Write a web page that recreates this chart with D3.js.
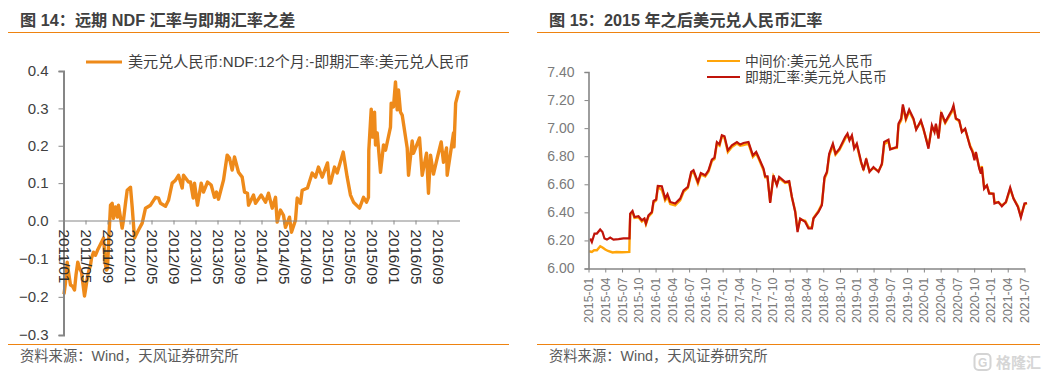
<!DOCTYPE html>
<html><head><meta charset="utf-8">
<script src="https://cdn.jsdelivr.net/npm/d3@7"></script>
<style>html,body{margin:0;padding:0;background:#fff}svg{display:block}text{font-family:"Liberation Sans","Noto Sans CJK SC",sans-serif}</style>
</head><body><svg id="c" width="1050" height="379"></svg>
<script>
// Left chart: months since 2011/01 and NDF spread
const ndfMonths=[0.09,0.36,0.67,0.91,1.27,1.64,2,2.27,2.6,2.91,3.27,3.45,3.82,4,4.27,4.55,4.91,5.09,5.45,5.82,6.18,6.73,7.09,7.27,7.45,7.64,7.82,8,8.27,8.55,8.85,9.09,9.45,9.82,10,10.67,10.91,11.27,11.58,12.18,12.49,12.91,13.64,14.31,14.91,15.82,16.73,17.27,17.64,18.55,19.09,19.76,20.36,20.91,21.58,21.82,22.73,23.09,23.58,23.82,24.36,25.04,25.45,26.18,26.85,27.45,27.82,28.18,29.09,29.76,30.18,30.67,31.09,31.82,32.49,32.91,33.45,33.64,34.55,34.91,35.95,36.73,37.27,37.95,38.55,38.85,39.45,40,40.36,41.09,41.45,42.18,42.49,43.09,43.4,44.36,45.22,45.82,46.36,47.04,48,48.36,48.55,49.27,49.76,50.85,51.58,52.18,52.73,53.82,54.55,55.09,55.45,55.51,55.95,56.18,56.55,56.73,57.04,57.64,58.18,58.55,59.45,59.58,60,60.36,60.67,60.91,61.27,61.58,62.49,62.73,63.4,63.64,64.73,65.22,66,66.36,66.73,67.27,67.95,68.67,69.09,69.64,69.76,70.36,70.91,71,71.3,71.9];
const ndfValues=[-0.193,-0.164,-0.109,-0.135,-0.169,-0.172,-0.182,-0.143,-0.109,-0.125,-0.135,-0.156,-0.198,-0.182,-0.156,-0.135,-0.117,-0.099,-0.083,-0.091,-0.078,-0.062,-0.052,-0.046,-0.078,-0.117,-0.13,-0.125,-0.038,0.041,0.046,0.006,0.036,0.009,0.041,-0.02,0.001,0.046,0.081,0.089,0.036,-0.046,-0.025,-0.007,0.033,0.041,0.062,0.06,0.046,0.038,0.054,0.1,0.108,0.121,0.087,0.121,0.103,0.103,0.06,0.1,0.041,0.1,0.076,0.103,0.095,0.062,0.076,0.057,0.108,0.175,0.167,0.135,0.17,0.129,0.116,0.076,0.073,0.041,0.068,0.046,0.068,0.049,0.073,0.033,0.062,-0.004,0.028,0.014,-0.018,0.009,-0.031,0.001,0.06,0.046,0.081,0.087,0.127,0.116,0.143,0.116,0.154,0.1,0.1,0.143,0.127,0.183,0.116,0.068,0.049,0.033,0.062,0.049,0.062,0.188,0.298,0.223,0.29,0.202,0.234,0.129,0.202,0.188,0.25,0.314,0.304,0.371,0.296,0.349,0.29,0.282,0.194,0.121,0.213,0.18,0.221,0.121,0.18,0.073,0.175,0.124,0.167,0.21,0.156,0.194,0.121,0.18,0.234,0.197,0.314,0.348];
const ndfTicks=["2011/01","2011/05","2011/09","2012/01","2012/05","2012/09","2013/01","2013/05","2013/09","2014/01","2014/05","2014/09","2015/01","2015/05","2015/09","2016/01","2016/05","2016/09"];
const ndfY=[-0.3,-0.2,-0.1,0,0.1,0.2,0.3,0.4];
// Right chart: months since 2015-01
const spotMonths=[0.3,0.6,1.07,1.5,2.09,2.5,2.86,3.3,3.88,4.47,5.37,6.26,7.33,7.46,7.87,8.23,8.94,9.55,10,10.27,10.73,11.34,11.63,12.1,12.41,13.12,13.71,14.13,14.62,15.51,16.4,17,17.78,18.37,18.78,19.57,20.1,20.88,21.47,22.07,22.54,22.97,23.44,23.86,24.33,24.93,25.65,26.55,27.14,27.73,28.62,29.41,30,30.41,31.31,31.61,32.02,32.5,33.09,33.7,34.11,35.19,35.9,36.39,36.98,37.4,37.87,38.77,39.36,39.96,40.25,41.14,41.75,42.22,42.65,43.06,43.72,44.19,44.9,45.92,46.33,46.69,47.12,47.53,48,48.78,49.19,49.68,50.27,50.98,51.88,52.49,52.9,53.66,53.97,55.17,55.46,55.94,56.24,56.78,57.37,58.14,58.62,59.46,59.93,60.82,61.43,61.9,62.15,62.61,63.1,63.81,65,65.3,65.73,66.32,66.8,67.39,68.28,68.7,69.05,69.3,69.9,70.2,70.37,70.78,71.27,71.68,72.45,72.63,73.35,73.95,74.67,75.44,76.03,76.82,77.35,78,78.43];
const spotValues=[6.214,6.189,6.249,6.249,6.278,6.26,6.214,6.206,6.22,6.206,6.209,6.214,6.214,6.391,6.41,6.367,6.372,6.344,6.356,6.32,6.379,6.403,6.481,6.491,6.588,6.586,6.498,6.529,6.474,6.463,6.498,6.557,6.581,6.688,6.7,6.616,6.68,6.664,6.7,6.776,6.79,6.901,6.885,6.949,6.942,6.842,6.878,6.901,6.883,6.894,6.901,6.806,6.83,6.794,6.712,6.657,6.657,6.467,6.664,6.593,6.652,6.616,6.623,6.51,6.403,6.26,6.356,6.332,6.285,6.285,6.356,6.403,6.451,6.652,6.688,6.818,6.89,6.818,6.854,6.937,6.961,6.913,6.949,6.854,6.89,6.759,6.7,6.783,6.688,6.723,6.688,6.747,6.901,6.918,6.847,6.865,7.032,7.068,7.169,7.068,7.132,7.068,6.989,7.055,6.996,6.854,7.02,6.972,7.032,6.925,7.114,7.043,7.127,7.162,7.068,7.056,6.972,6.996,6.866,6.83,6.771,6.83,6.712,6.676,6.723,6.569,6.593,6.534,6.534,6.463,6.474,6.443,6.474,6.577,6.498,6.438,6.363,6.463,6.467];
const midMonths=[0.1,0.6,1,1.5,2.1,2.5,3,3.5,4.3,5,6,7.3,7.35,7.46,7.87,8.23,8.94,9.55,10,10.27,10.73,11.34,11.63,12.1,12.41,13.12,13.71,14.13,14.62,15.51,16.4,17,17.78,18.37,18.78,19.57,20.1,20.88,21.47,22.07,22.54,22.97,23.44,23.86,24.33,24.93,25.65,26.55,27.14,27.73,28.62,29.41,30,30.41,31.31,31.61,32.02,32.5,33.09,33.7,34.11,35.19,35.9,36.39,36.98,37.4,37.87,38.77,39.36,39.96,40.25,41.14,41.75,42.22,42.65,43.06,43.72,44.19,44.9,45.92,46.33,46.69,47.12,47.53,48,48.78,49.19,49.68,50.27,50.98,51.88,52.49,52.9,53.66,53.97,55.17,55.46,55.94,56.24,56.78,57.37,58.14,58.62,59.46,59.93,60.82,61.43,61.9,62.15,62.61,63.1,63.81,65,65.3,65.73,66.32,66.8,67.39,68.28,68.7,69.05,69.3,69.9,70.2,70.37,70.78,71.27,71.68,72.45,72.63,73.35,73.95,74.67,75.44,76.03,76.82,77.35,78,78.43];
const midValues=[6.123,6.118,6.13,6.13,6.159,6.15,6.135,6.125,6.114,6.118,6.116,6.118,6.21,6.385,6.4,6.36,6.365,6.335,6.35,6.315,6.37,6.395,6.47,6.485,6.58,6.56,6.485,6.51,6.46,6.45,6.485,6.545,6.575,6.675,6.69,6.605,6.67,6.655,6.69,6.765,6.78,6.89,6.875,6.94,6.93,6.83,6.865,6.89,6.875,6.88,6.89,6.795,6.82,6.785,6.7,6.65,6.65,6.475,6.655,6.6,6.645,6.61,6.615,6.505,6.41,6.275,6.35,6.34,6.295,6.29,6.36,6.41,6.46,6.64,6.68,6.805,6.875,6.81,6.845,6.925,6.95,6.92,6.94,6.865,6.88,6.75,6.71,6.77,6.695,6.715,6.695,6.74,6.885,6.905,6.855,6.86,7.02,7.055,7.15,7.06,7.12,7.06,6.995,7.045,6.99,6.87,7.005,6.98,7.02,6.935,7.1,7.035,7.115,7.145,7.065,7.05,6.98,6.99,6.875,6.84,6.785,6.825,6.72,6.685,6.73,6.58,6.59,6.54,6.53,6.475,6.47,6.45,6.47,6.565,6.5,6.445,6.375,6.455,6.465];
const fxTicks=["2015-01","2015-04","2015-07","2015-10","2016-01","2016-04","2016-07","2016-10","2017-01","2017-04","2017-07","2017-10","2018-01","2018-04","2018-07","2018-10","2019-01","2019-04","2019-07","2019-10","2020-01","2020-04","2020-07","2020-10","2021-01","2021-04","2021-07"];
const fxY=[6.0,6.2,6.4,6.6,6.8,7.0,7.2,7.4];
const titles=["图 14：远期 NDF 汇率与即期汇率之差","图 15：2015 年之后美元兑人民币汇率"];
const sourceText="资料来源：Wind，天风证券研究所";
const legendNdf="美元兑人民币:NDF:12个月:-即期汇率:美元兑人民币";
const legendMid="中间价:美元兑人民币", legendSpot="即期汇率:美元兑人民币";

const svg=d3.select("#c");
const ORANGE="#ee8a1a", RULE="#ee8310", AX="#868686", MID="#ffa50a", RED="#c0140a";

// frames
[[8,509,20,0],[537,1040,549,1]].forEach(([a,b,tx,i])=>{
  svg.append("line").attr("x1",a).attr("x2",b).attr("y1",32.5).attr("y2",32.5).attr("stroke",RULE).attr("stroke-width",1.2);
  svg.append("line").attr("x1",a).attr("x2",b).attr("y1",344.5).attr("y2",344.5).attr("stroke",RULE).attr("stroke-width",1.2);
  svg.append("text").attr("x",tx).attr("y",26).attr("font-size",16.2).attr("font-weight",700).attr("fill","#404040").text(titles[i]);
  svg.append("text").attr("x",tx).attr("y",361).attr("font-size",14.3).attr("fill","#5a5a5a").text(sourceText);
});

// left chart
const x1=d3.scaleLinear().domain([0,72]).range([63.5,459.5]);
const y1=d3.scaleLinear().domain([-0.3,0,0.4]).range([335,220.5,71]);
const line1=d3.line().x(d=>x1(d[0])).y(d=>y1(d[1]));
svg.append("path").datum(d3.zip(ndfMonths,ndfValues)).attr("d",line1).attr("fill","none").attr("stroke",ORANGE).attr("stroke-width",3.4).attr("stroke-linejoin","round");
const ax1Y=svg.append("g").attr("transform","translate(63.5,0)").call(d3.axisLeft(y1).tickValues(ndfY).tickFormat(d3.format(".1f")).tickSize(5).tickPadding(10));
ax1Y.selectAll("path,line").attr("stroke",AX);
ax1Y.select("path").attr("stroke-width",2);
ax1Y.selectAll("text").attr("font-size",15).attr("fill","#404040").style("font-family","'Liberation Sans'");
const ax1X=svg.append("g").attr("transform",`translate(0,${y1(0)})`).call(d3.axisBottom(x1).tickValues(ndfTicks.map((_,i)=>i*4)).tickFormat(i=>ndfTicks[i/4]).tickSize(4).tickSizeOuter(0));
ax1X.selectAll("path,line").attr("stroke",AX);
ax1X.selectAll("text").attr("font-size",15.2).attr("fill","#303030").attr("text-anchor","start").attr("dy",0).attr("dominant-baseline","central")
  .attr("transform","translate(0,4) rotate(90)").attr("x",5).attr("y",0);
svg.append("line").attr("x1",86).attr("x2",122).attr("y1",62).attr("y2",62).attr("stroke",ORANGE).attr("stroke-width",3);
svg.append("text").attr("x",128).attr("y",67).attr("font-size",15.1).attr("fill","#404040").text(legendNdf);

// right chart
const x2=d3.scaleLinear().domain([0,78]).range([588.5,1024.5]);
const y2=d3.scaleLinear().domain([6,7.4]).range([268.5,72]);
const line2=d3.line().x(d=>x2(d[0])).y(d=>y2(d[1]));
svg.append("path").datum(d3.zip(midMonths,midValues)).attr("d",line2).attr("fill","none").attr("stroke",MID).attr("stroke-width",2.4);
svg.append("path").datum(d3.zip(spotMonths,spotValues)).attr("d",line2).attr("fill","none").attr("stroke",RED).attr("stroke-width",2.2);
const ax2Y=svg.append("g").attr("transform","translate(588.5,0)").call(d3.axisLeft(y2).tickValues(fxY).tickFormat(d3.format(".2f")).tickSize(4).tickPadding(10));
ax2Y.selectAll("path,line").attr("stroke",AX);
ax2Y.select("path").attr("stroke-width",1.6);
ax2Y.selectAll("text").attr("font-size",14).attr("fill","#7a7a7a").style("font-family","'Liberation Sans'");
const ax2X=svg.append("g").attr("transform",`translate(0,${y2(6)})`).call(d3.axisBottom(x2).tickValues(fxTicks.map((_,i)=>i*3)).tickFormat(i=>fxTicks[i/3]).tickSize(4).tickSizeOuter(0));
ax2X.selectAll("path,line").attr("stroke",AX);
ax2X.select("path").attr("stroke-width",1.6);
ax2X.selectAll("text").attr("font-size",12.4).attr("fill","#7a7a7a").attr("text-anchor","end").attr("dy",0).attr("dominant-baseline","central")
  .attr("transform","rotate(-90)").attr("x",-9).attr("y",0);
[[61,MID,legendMid],[77,RED,legendSpot]].forEach(([y,c,t])=>{
  svg.append("line").attr("x1",707).attr("x2",740).attr("y1",y).attr("y2",y).attr("stroke",c).attr("stroke-width",1.8);
  svg.append("text").attr("x",745).attr("y",y+5).attr("font-size",13.8).attr("fill","#404040").text(t);
});

// watermark
svg.append("rect").attr("x",974.5).attr("y",354).attr("width",16).attr("height",16).attr("rx",4).attr("fill","none").attr("stroke","#d4d4d4").attr("stroke-width",2);
svg.append("text").attr("x",978).attr("y",366.5).attr("font-size",12).attr("font-weight",700).attr("fill","#d4d4d4").text("G");
svg.append("text").attr("x",996).attr("y",368).attr("font-size",15).attr("font-weight",700).attr("fill","#d6d6d6").text("格隆汇");
</script></body></html>
